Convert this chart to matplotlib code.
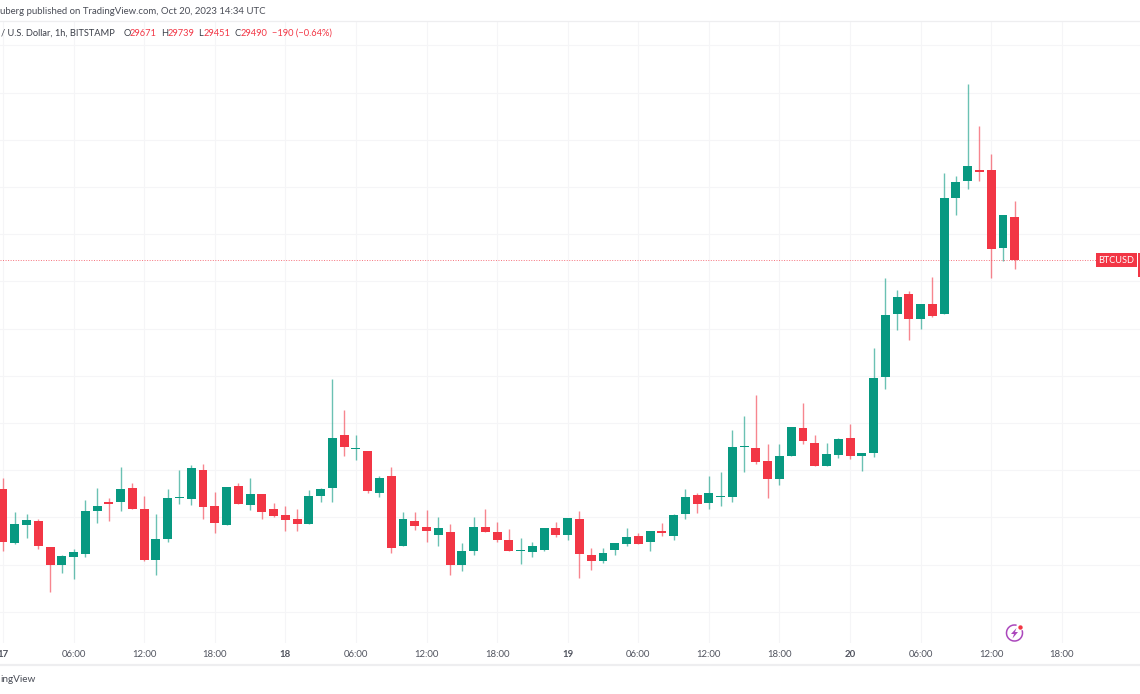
"""BTC/USD 1h candles, TradingView style"""
import matplotlib
matplotlib.use('Agg')
import matplotlib.pyplot as plt
from matplotlib.lines import Line2D
from matplotlib.patches import Arc, Circle, Polygon, Rectangle
import numpy as np

plt.rcParams['font.family'] = ['Lato', 'DejaVu Sans']

opens = [28522, 28291, 28367, 28385, 28276, 28199, 28230, 28244, 28427, 28467,
         28463, 28525, 28436, 28219, 28307, 28482, 28478, 28601, 28447, 28369,
         28532, 28454, 28498, 28436, 28409, 28392, 28372, 28492, 28524, 28751,
         28689, 28682, 28502, 28577, 28280, 28385, 28358, 28326, 28337, 28196,
         28257, 28358, 28337, 28303, 28258, 28254, 28263, 28354, 28326, 28392,
         28241, 28216, 28263, 28286, 28320, 28295, 28341, 28321, 28413, 28495,
         28461, 28487, 28488, 28700, 28693, 28638, 28563, 28659, 28780, 28716,
         28617, 28663, 28737, 28659, 28672, 28996, 29263, 29347, 29240, 29303,
         29262, 29755, 29823, 29872, 29872, 29543, 29671]
highs = [28566, 28422, 28416, 28392, 28276, 28242, 28265, 28473, 28525, 28484,
         28613, 28545, 28491, 28413, 28519, 28601, 28621, 28627, 28508, 28528,
         28546, 28567, 28498, 28460, 28449, 28437, 28515, 28525, 28985, 28855,
         28749, 28682, 28577, 28613, 28423, 28423, 28432, 28402, 28371, 28293,
         28402, 28435, 28381, 28350, 28314, 28296, 28354, 28381, 28399, 28426,
         28272, 28272, 28291, 28354, 28333, 28341, 28378, 28416, 28519, 28502,
         28577, 28591, 28768, 28829, 28918, 28710, 28710, 28782, 28884, 28751,
         28717, 28735, 28795, 28674, 29118, 29416, 29364, 29357, 29303, 29419,
         29858, 29848, 30238, 30057, 29940, 29682, 29739]
lows = [28258, 28286, 28314, 28266, 28083, 28165, 28138, 28230, 28374, 28386,
        28427, 28435, 28217, 28157, 28297, 28458, 28452, 28391, 28335, 28369,
        28458, 28430, 28393, 28403, 28341, 28344, 28372, 28467, 28466, 28659,
        28645, 28502, 28488, 28251, 28280, 28348, 28297, 28280, 28157, 28174,
        28242, 28338, 28296, 28257, 28202, 28230, 28257, 28316, 28306, 28141,
        28179, 28208, 28240, 28278, 28286, 28257, 28319, 28302, 28393, 28420,
        28437, 28447, 28466, 28594, 28628, 28481, 28536, 28659, 28710, 28618,
        28617, 28652, 28649, 28598, 28655, 28943, 29194, 29151, 29200, 29248,
        29262, 29679, 29793, 29826, 29416, 29488, 29451]
closes = [28295, 28371, 28389, 28280, 28199, 28235, 28252, 28426, 28447, 28458,
          28522, 28435, 28219, 28310, 28484, 28488, 28611, 28444, 28377, 28528,
          28458, 28501, 28424, 28406, 28389, 28372, 28491, 28522, 28737, 28700,
          28693, 28513, 28568, 28269, 28392, 28363, 28341, 28354, 28199, 28259,
          28361, 28338, 28305, 28257, 28262, 28279, 28354, 28326, 28396, 28246,
          28213, 28248, 28291, 28317, 28286, 28341, 28335, 28412, 28488, 28456,
          28505, 28491, 28700, 28703, 28634, 28563, 28662, 28782, 28724, 28618,
          28669, 28732, 28659, 28674, 28990, 29259, 29333, 29240, 29303, 29255,
          29751, 29821, 29889, 29865, 29536, 29682, 29490]
last_price = 29490

price_levels = [28000, 28200, 28400, 28600, 28800, 29000, 29200, 29400, 29600,
                29800, 30000, 30200, 30400]
time_ticks = [0, 6, 12, 18, 24, 30, 36, 42, 48, 54, 60, 66, 72, 78, 84, 90]
time_labels = ['17', '06:00', '12:00', '18:00', '18', '06:00', '12:00', '18:00',
               '19', '06:00', '12:00', '18:00', '20', '06:00', '12:00', '18:00']
day_labels = ['17', '18', '19', '20']

GREEN = '#089981'
RED = '#f23645'
GRID = '#f5f5f7'
TEXT = '#50535e'

W, H = 1140, 694
PANE_TOP, PANE_BOTTOM = 21, 643

fig = plt.figure(figsize=(W / 100, H / 100), dpi=100, facecolor='white')
ax = fig.add_axes([0, 1 - PANE_BOTTOM / H, 1, (PANE_BOTTOM - PANE_TOP) / H])

# scales: 11.765 px per hour, 4.237 USD per px
ax.set_xlim(-3 / 11.765, (W - 3) / 11.765)
ax.set_ylim(30592 - 4.237 * PANE_BOTTOM, 30592 - 4.237 * PANE_TOP)

x = np.arange(len(opens))
o = np.array(opens)
c = np.array(closes)
colors = [GREEN if b >= a else RED for a, b in zip(opens, closes)]

ax.vlines(x, lows, highs, colors=colors, linewidth=1.0, alpha=0.6, zorder=3)
ax.bar(x, np.abs(c - o), bottom=np.minimum(o, c), width=0.76, color=colors,
       edgecolor='none', zorder=4)

ax.axhline(last_price, color=RED, linewidth=0.7, linestyle=(0, (1, 1.6)), alpha=0.7, zorder=2)

ax.set_yticks(price_levels)
ax.set_xticks(time_ticks)
ax.set_xticklabels(time_labels, fontsize=6.9, color=TEXT)
for lab in ax.get_xticklabels():
    if lab.get_text() in day_labels:
        lab.set_fontweight('bold')
ax.tick_params(axis='both', length=0, labelleft=False, pad=5)
ax.grid(True, color=GRID, linewidth=0.8)
ax.set_axisbelow(True)
for spine in ax.spines.values():
    spine.set_visible(False)

# screen furniture in pixel coordinates
over = fig.add_axes([0, 0, 1, 1], facecolor='none')
over.set_xlim(0, W)
over.set_ylim(H, 0)
over.axis('off')

fig.add_artist(Line2D([0, 1], [1 - 21 / H] * 2, color='#eeeef0', linewidth=0.9))
fig.add_artist(Line2D([0, 1], [1 - 665 / H] * 2, color='#eeeef0', linewidth=1.6))

over.text(0, 11.5, 'uberg published on TradingView.com, Oct 20, 2023 14:34 UTC',
          fontsize=6.9, color='#4a4d57', va='center')
over.text(1, 33.5, '/ U.S. Dollar, 1h, BITSTAMP', fontsize=6.7, color='#3b3e48', va='center')
header = [(123.3, 'O', '#3b3e48'), (130, '29671', RED), (160.7, 'H', '#3b3e48'),
          (167.7, '29739', RED), (198, 'L', '#3b3e48'), (203.7, '29451', RED),
          (234.3, 'C', '#3b3e48'), (240.7, '29490', RED), (272, '\u2212190 (\u22120.64%)', RED)]
for px, txt, col in header:
    over.text(px, 33.5, txt, fontsize=6.7, color=col, va='center')
over.text(0, 680, 'ingView', fontsize=7.2, color='#4a4d57', va='center')

# last price label
over.add_patch(Rectangle((1096, 253), 41, 14, color=RED, linewidth=0, zorder=5))
over.add_patch(Rectangle((1138, 253), 2, 24, color=RED, linewidth=0, zorder=5))
over.text(1116.5, 260, 'BTCUSD', fontsize=6.6, color='white', ha='center', va='center', zorder=6)

# news flash icon
PURPLE = '#ab47bc'
over.add_patch(Arc((1014.5, 633), 16, 16, theta1=-20, theta2=285, color=PURPLE, linewidth=1.1))
over.add_patch(Polygon([(1016.5, 628), (1011, 634), (1014, 634), (1012.5, 638.5),
                        (1018, 632), (1015, 632)], closed=True, color=PURPLE, linewidth=0))
over.add_patch(Circle((1020.5, 627.5), 2.2, color=RED, linewidth=0))

fig.savefig('out.png', dpi=100)
plt.close(fig)
